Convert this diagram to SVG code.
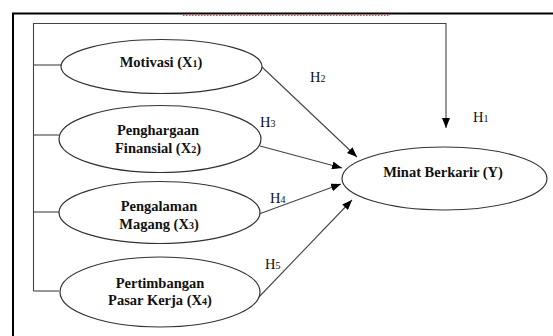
<svg xmlns="http://www.w3.org/2000/svg" width="553" height="336" viewBox="0 0 553 336">
<defs>
<marker id="ah" markerWidth="10" markerHeight="8" refX="10" refY="4" orient="auto" markerUnits="userSpaceOnUse">
<path d="M0,0 L10,4 L0,8 Z" fill="#000"/>
</marker>
<style>
.node ellipse{fill:#fff;stroke:#333;stroke-width:1.2}
.node text{font-family:"Liberation Serif","Times New Roman",serif;font-weight:bold;font-size:14.5px;fill:#111;text-anchor:middle}
.sub{font-size:10px}
.lbl{font-family:"Liberation Serif","Times New Roman",serif;font-size:14.5px;fill:#111}
.lsub{font-size:10px}
.conn line,.conn polyline{stroke:#444;stroke-width:1.1;fill:none}
</style>
</defs>
<rect width="553" height="336" fill="#fff"/>
<g id="frame">
<path d="M13,336 L13,13.5 L553,13.5" fill="none" stroke="#000" stroke-width="2"/>
<line x1="183" y1="15.5" x2="389" y2="15.5" stroke="#e04040" stroke-width="1.2" stroke-dasharray="1.5,1.5"/>
</g>
<g class="conn" id="connectors">
<polyline points="33.5,291 33.5,23.5 446,23.5 446,128" marker-end="url(#ah)"/>
<line x1="33.5" y1="65" x2="61" y2="65"/>
<line x1="33.5" y1="135" x2="59" y2="135"/>
<line x1="33.5" y1="212" x2="59" y2="212"/>
<line x1="33.5" y1="291" x2="59" y2="291"/>
<line x1="262" y1="67" x2="357" y2="157" marker-end="url(#ah)"/>
<line x1="260" y1="146" x2="342" y2="168" marker-end="url(#ah)"/>
<line x1="259" y1="214" x2="341" y2="184" marker-end="url(#ah)"/>
<line x1="258" y1="298" x2="352" y2="200" marker-end="url(#ah)"/>
</g>
<g id="labels">
<text class="lbl" x="310" y="82">H<tspan class="lsub">2</tspan></text>
<text class="lbl" x="473" y="122">H<tspan class="lsub">1</tspan></text>
<text class="lbl" x="260" y="127">H<tspan class="lsub">3</tspan></text>
<text class="lbl" x="270" y="203">H<tspan class="lsub">4</tspan></text>
<text class="lbl" x="265" y="269">H<tspan class="lsub">5</tspan></text>
</g>
<g class="node" id="n1">
<ellipse cx="161.5" cy="66.5" rx="100.5" ry="27"/>
<text x="161" y="67">Motivasi (X<tspan class="sub">1</tspan>)</text>
</g>
<g class="node" id="n2">
<ellipse cx="160" cy="139" rx="101" ry="33.5"/>
<text x="158" y="135">Penghargaan</text>
<text x="158" y="153">Finansial (X<tspan class="sub">2</tspan>)</text>
</g>
<g class="node" id="n3">
<ellipse cx="159.5" cy="212.5" rx="100.5" ry="31"/>
<text x="159" y="211">Pengalaman</text>
<text x="159" y="229">Magang (X<tspan class="sub">3</tspan>)</text>
</g>
<g class="node" id="n4">
<ellipse cx="160" cy="292" rx="100" ry="35"/>
<text x="160" y="288">Pertimbangan</text>
<text x="160" y="305">Pasar Kerja (X<tspan class="sub">4</tspan>)</text>
</g>
<g class="node" id="ny">
<ellipse cx="444.5" cy="178.5" rx="102.5" ry="31.5"/>
<text x="443" y="177">Minat Berkarir (Y)</text>
</g>
</svg>
